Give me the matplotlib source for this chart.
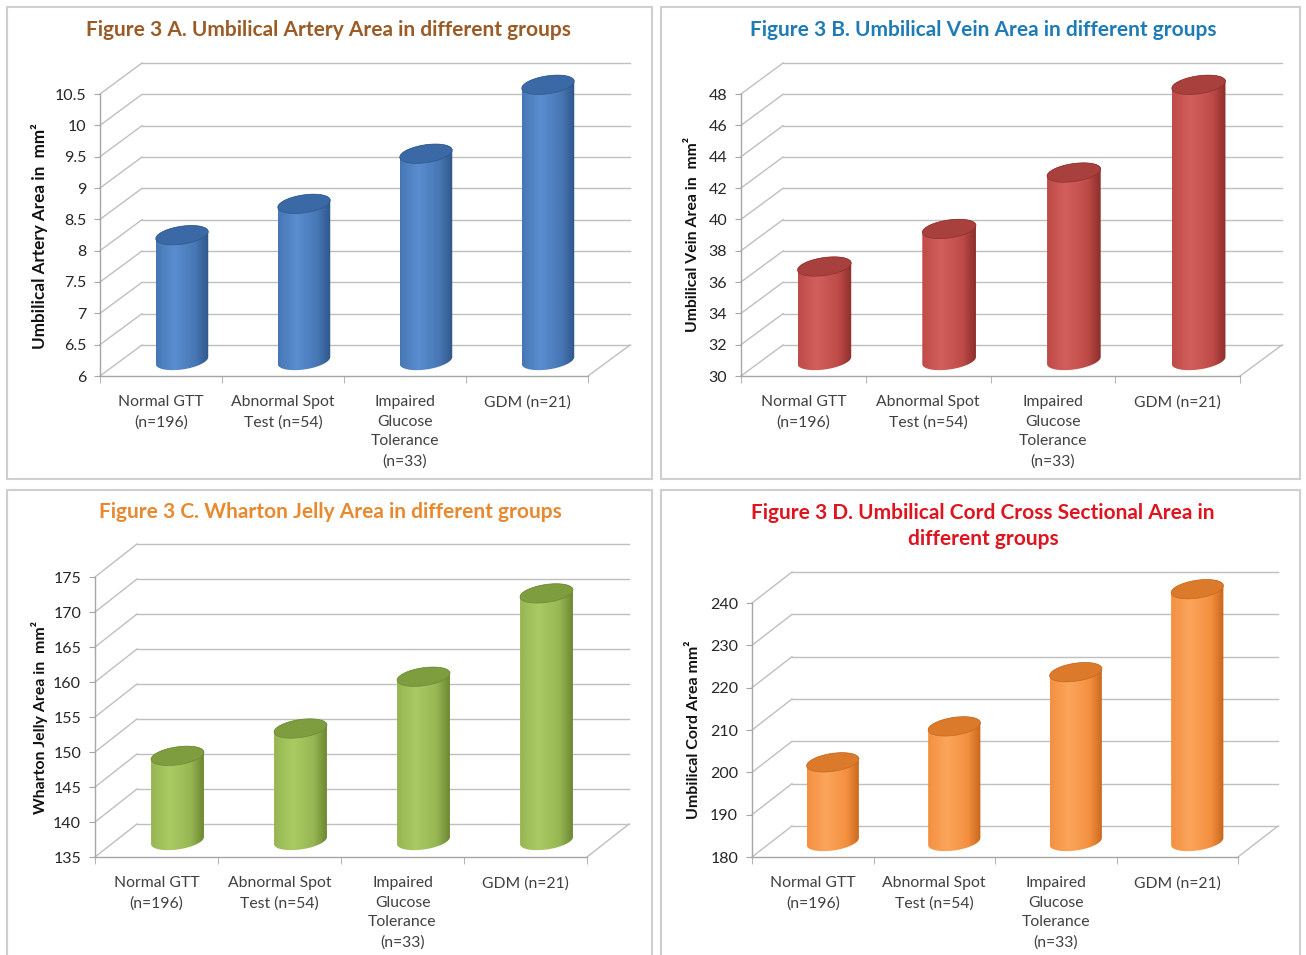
import numpy as np
import matplotlib
matplotlib.use("Agg")
import matplotlib.pyplot as plt
from matplotlib.patches import Polygon, Rectangle
from matplotlib.colors import LinearSegmentedColormap

plt.rcParams['font.family'] = ['Lato', 'DejaVu Sans']

W, H = 1306, 955

categories = ["Normal GTT\n(n=196)", "Abnormal Spot\nTest (n=54)",
              "Impaired\nGlucose\nTolerance\n(n=33)", "GDM (n=21)"]

artery_area = [8.0, 8.5, 9.3, 10.4]
vein_area = [36.0, 38.4, 42.0, 47.6]
wharton_area = [147.1, 151.0, 158.4, 170.3]
cord_area = [198.7, 207.2, 220.0, 239.6]

artery_ticks = [6, 6.5, 7, 7.5, 8, 8.5, 9, 9.5, 10, 10.5]
vein_ticks = [30, 32, 34, 36, 38, 40, 42, 44, 46, 48]
wharton_ticks = [135, 140, 145, 150, 155, 160, 165, 170, 175]
cord_ticks = [180, 190, 200, 210, 220, 230, 240]

titles = ["Figure 3 A. Umbilical Artery Area in different groups",
          "Figure 3 B. Umbilical Vein Area in different groups",
          "Figure 3 C. Wharton Jelly Area in different groups",
          "Figure 3 D. Umbilical Cord Cross Sectional Area in\ndifferent groups"]
ylabels = ["Umbilical Artery Area in  mm²", "Umbilical Vein Area in  mm²",
           "Wharton Jelly Area in  mm²", "Umbilical Cord Area mm²"]
title_colors = ["#9A5B27", "#1F7BB6", "#E8892F", "#E0141E"]

# cylinder colours: (dark edge, mid, light, top)
bar_colors = [("#2E5689", "#4776B4", "#5A8ED0", "#3B69A6"),
              ("#8C2E2B", "#BE4B48", "#D25F5B", "#A8413E"),
              ("#6C8832", "#97B653", "#AACB63", "#7E9D3E"),
              ("#C7661C", "#F49040", "#FBA55C", "#DC7A2B")]


def px(x, y):
    return x / W, 1 - y / H


def draw_panel(fig, values, ticks, geom, colors, title, title_color,
               title_xy, ylabel, ylabel_xy, ylabel_size):
    fl, fr, yt, yb, dx, dy = geom
    ymin, ymax = ticks[0], ticks[-1]
    ax = fig.add_axes([fl / W, 1 - yb / H, (fr + dx - fl) / W,
                       (yb - (yt - dy)) / H])
    cat_px = (fr - fl) / 4.0
    vpp = (ymax - ymin) / (yb - yt)
    dxc = dx / cat_px
    dyv = dy * vpp

    # back wall grid + side wall diagonals
    for v in ticks:
        ax.plot([-0.5, -0.5 + dxc], [v, v + dyv], color="#BFBFBF", lw=1,
                zorder=1, clip_on=False)
        ax.plot([-0.5 + dxc, 3.5 + dxc], [v + dyv, v + dyv],
                color="#BFBFBF", lw=1, zorder=1, clip_on=False)
    ax.plot([3.5, 3.5 + dxc], [ymin, ymin + dyv], color="#BFBFBF", lw=1,
            zorder=1, clip_on=False)

    dark, mid, light, top = colors
    cmap = LinearSegmentedColormap.from_list(
        "cyl", [(0, mid), (0.35, light), (0.75, mid), (1, dark)])
    grad = np.linspace(0, 1, 256)[None, :]

    a = 0.215
    b = 9.0 * vpp
    k = 3.5 * vpp
    t = np.linspace(0, 2 * np.pi, 120)
    for i, v in enumerate(values):
        cx = i + dxc / 2
        y0 = ymin + dyv / 2
        y1 = v + dyv / 2
        tb = np.linspace(np.pi, 2 * np.pi, 60)
        tt = np.linspace(0, np.pi, 60)
        xs = np.concatenate([cx + a * np.cos(tb), cx + a * np.cos(tt)])
        ys = np.concatenate([y0 + b * np.sin(tb) + k * np.cos(tb),
                             y1 + b * np.sin(tt) + k * np.cos(tt)])
        body = Polygon(np.column_stack([xs, ys]), closed=True,
                       facecolor="none", edgecolor="none", zorder=3)
        ax.add_patch(body)
        im = ax.imshow(grad, extent=[cx - a, cx + a, y0 - b - k, y1 + b + k],
                       aspect="auto", cmap=cmap, zorder=3,
                       interpolation="bilinear")
        im.set_clip_path(body)
        cap = Polygon(np.column_stack([cx + a * np.cos(t),
                                       y1 + b * np.sin(t) + k * np.cos(t)]),
                      closed=True, facecolor=top, edgecolor=dark, lw=0.5,
                      zorder=4)
        ax.add_patch(cap)

    ax.set_xlim(-0.5, 3.5 + dxc)
    ax.set_ylim(ymin, ymax + dyv)
    ax.patch.set_visible(False)
    for s in ["top", "right"]:
        ax.spines[s].set_visible(False)
    ax.spines["left"].set_bounds(ymin, ymax)
    ax.spines["bottom"].set_bounds(-0.5, 3.5)
    for s in ["left", "bottom"]:
        ax.spines[s].set_color("#A6A6A6")
        ax.spines[s].set_linewidth(1)

    ax.set_yticks(ticks)
    ax.set_yticklabels([f"{v:g}" for v in ticks])
    ax.tick_params(axis="y", length=4, color="#A6A6A6", labelsize=11.5,
                   labelcolor="#262626", pad=6)
    ax.set_xticks(range(4))
    ax.set_xticklabels(categories, linespacing=1.5)
    ax.set_xticks([-0.5, 0.5, 1.5, 2.5, 3.5], minor=True)
    ax.tick_params(axis="x", which="major", length=0, labelsize=11.3,
                   labelcolor="#404040", pad=14)
    ax.tick_params(axis="x", which="minor", length=5, color="#A6A6A6")
    for lab in ax.get_xticklabels():
        lab.set_verticalalignment("top")

    fig.text(*px(*title_xy), title, color=title_color, fontsize=15,
             fontweight="bold", ha="center", va="center", linespacing=1.4)
    fig.text(*px(*ylabel_xy), ylabel, fontsize=ylabel_size,
             fontweight="bold", rotation=90, ha="center", va="center",
             color="#111111")
    return ax


fig = plt.figure(figsize=(W / 100, H / 100), dpi=100)
fig.patch.set_facecolor("white")

# panel frames
for (x0, y0, x1, y1) in [(7, 7, 652, 479), (661, 7, 1300, 479),
                         (7, 490, 652, 965), (661, 490, 1300, 965)]:
    fig.add_artist(Rectangle(px(x0, y1), (x1 - x0) / W, (y1 - y0) / H,
                             transform=fig.transFigure, fill=False,
                             edgecolor="#CFCFCF", lw=1.5))

draw_panel(fig, artery_area, artery_ticks, (100, 588, 94, 376, 42, 31),
           bar_colors[0], titles[0], title_colors[0], (328, 30),
           ylabels[0], (40, 236), 12.3)
draw_panel(fig, vein_area, vein_ticks, (741, 1240, 94, 376, 42, 31),
           bar_colors[1], titles[1], title_colors[1], (983, 30),
           ylabels[1], (693, 235), 11.3)
draw_panel(fig, wharton_area, wharton_ticks, (95, 587, 577, 857, 42, 33),
           bar_colors[2], titles[2], title_colors[2], (330, 512),
           ylabels[2], (40, 717), 11.4)
draw_panel(fig, cord_area, cord_ticks, (752, 1238, 603, 857, 40, 31),
           bar_colors[3], titles[3], title_colors[3], (983, 526),
           ylabels[3], (694, 730), 11.5)

fig.savefig("out.png", dpi=100)
